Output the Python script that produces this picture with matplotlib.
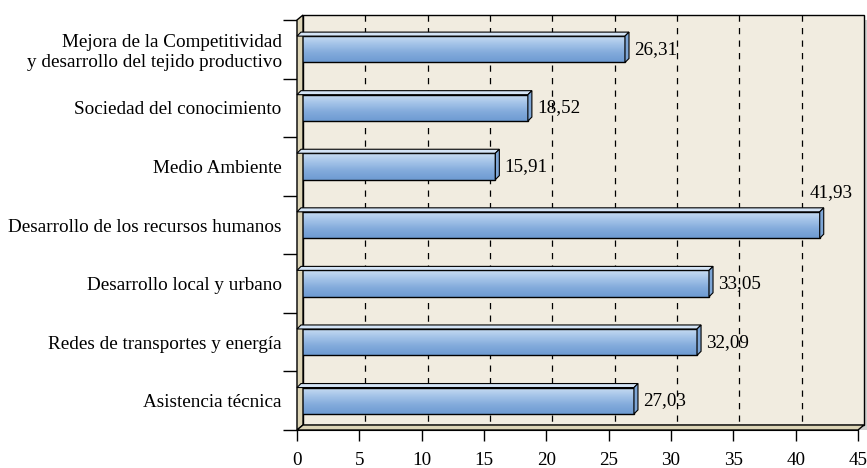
import numpy as np
import matplotlib.pyplot as plt
from matplotlib.patches import Rectangle, Polygon
from matplotlib.transforms import ScaledTranslation, IdentityTransform

categories = [
    "Mejora de la Competitividad\ny desarrollo del tejido productivo",
    "Sociedad del conocimiento",
    "Medio Ambiente",
    "Desarrollo de los recursos humanos",
    "Desarrollo local y urbano",
    "Redes de transportes y energía",
    "Asistencia técnica",
]
values = [26.31, 18.52, 15.91, 41.93, 33.05, 32.09, 27.03]
x_ticks = [0, 5, 10, 15, 20, 25, 30, 35, 40, 45]

plt.rcParams['font.family'] = ['Liberation Serif', 'DejaVu Serif']
fs = 13.8

W, H = 867, 468
fig = plt.figure(figsize=(W / 100, H / 100), dpi=100)
ax = fig.add_axes([297 / W, 38 / H, 561 / W, 410 / H])
ax.set_xlim(0, 45)
ax.set_ylim(len(categories) - 0.5, -0.5)
ax.patch.set_visible(False)

# depth of the 3D box (pixels)
dx, dy = 6, 5
off = ScaledTranslation(dx / 100, dy / 100, fig.dpi_scale_trans)

wall = '#F1ECE0'
side = '#DCD4B6'

# shadow + back wall
ax.add_patch(Rectangle((0.008, -0.012), 1, 1, transform=ax.transAxes + off,
                       facecolor='#CFCFCF', edgecolor='none', zorder=0, clip_on=False))
ax.add_patch(Rectangle((0, 0), 1, 1, transform=ax.transAxes + off,
                       facecolor=wall, edgecolor='black', lw=1, zorder=0.5, clip_on=False))

# left wall and floor in display coords
(x0, y0), (x1, y1) = ax.transAxes.transform([(0, 0), (1, 1)])
left = Polygon([(x0, y0), (x0, y1), (x0 + dx, y1 + dy), (x0 + dx, y0 + dy)],
               closed=True, transform=IdentityTransform(), facecolor=side,
               edgecolor='black', lw=1, zorder=1)
floor = Polygon([(x0, y0), (x1, y0), (x1 + dx, y0 + dy), (x0 + dx, y0 + dy)],
                closed=True, transform=IdentityTransform(), facecolor=side,
                edgecolor='black', lw=1, zorder=1)
fig.add_artist(left)
fig.add_artist(floor)

# dashed grid on back wall
ax.vlines(x_ticks[1:-1], -0.5, len(categories) - 0.5, transform=ax.transData + off,
          colors='black', linestyles=(0, (5, 5)), lw=0.9, zorder=0.8, clip_on=False)

# gradient bars with 3D faces
grad = np.linspace(0, 1, 64).reshape(-1, 1)
cmap = plt.matplotlib.colors.LinearSegmentedColormap.from_list(
    'bar', ['#C9DDF3', '#A3C3E8', '#82AADB', '#6E9BD2'])
h = 0.45
bdx, bdy = 4, 4
for i, v in enumerate(values):
    top, bot = i - h / 2, i + h / 2
    ax.imshow(grad, extent=[0, v, bot, top], cmap=cmap, aspect='auto', zorder=3)
    ax.add_patch(Rectangle((0, top), v, h, facecolor='none', edgecolor='black',
                           lw=1, zorder=4))
    (px0, py_top), (px1, py_bot) = ax.transData.transform([(0, top), (v, bot)])
    fig.add_artist(Polygon([(px0, py_top), (px1, py_top), (px1 + bdx, py_top + bdy),
                            (px0 + bdx, py_top + bdy)], closed=True,
                           transform=IdentityTransform(), facecolor='#D4E4F6',
                           edgecolor='black', lw=0.8, zorder=5))
    fig.add_artist(Polygon([(px1, py_top), (px1 + bdx, py_top + bdy),
                            (px1 + bdx, py_bot + bdy), (px1, py_bot)], closed=True,
                           transform=IdentityTransform(), facecolor='#7EA6D6',
                           edgecolor='black', lw=0.8, zorder=5))
    label = f"{v:.2f}".replace('.', ',')
    if v == max(values):
        ax.text(v + 0.9, i - 0.55, label, ha='center', va='center', fontsize=fs, zorder=6)
    else:
        ax.text(v + 0.75, i, label, ha='left', va='center', fontsize=fs, zorder=6)

ax.set_xticks(x_ticks)
ax.set_xticklabels([str(t) for t in x_ticks], fontsize=fs)
ax.tick_params(axis='x', length=8, width=1, direction='out', pad=8)

ax.set_yticks(range(len(categories)))
ax.set_yticklabels(categories, fontsize=fs, multialignment='right')
ax.set_yticks(np.arange(-0.5, len(categories)), minor=True)
ax.tick_params(axis='y', which='major', length=0, pad=11)
ax.tick_params(axis='y', which='minor', length=10, width=1)

for s in ['top', 'right']:
    ax.spines[s].set_visible(False)
ax.spines['left'].set_zorder(2)
ax.spines['bottom'].set_zorder(2)

fig.savefig('out.png', dpi=100)
